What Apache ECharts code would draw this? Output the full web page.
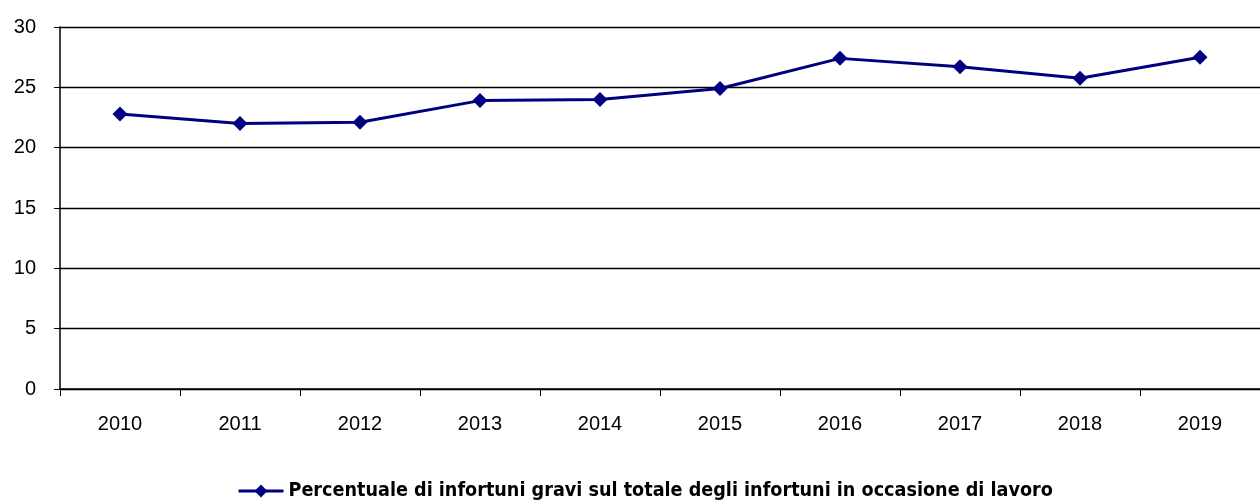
<!DOCTYPE html>
<html lang="it">
<head>
    <meta charset="UTF-8">
    <title>Infortuni gravi</title>
    <script src="https://cdn.jsdelivr.net/npm/echarts@6/dist/echarts.min.js"></script>
    <style>
        html, body { margin: 0; padding: 0; background: #fff; }
    </style>
</head>
<body>
<div id="main" style="width: 1260px; height: 500px;"></div>
<script>
    // dati
    var anni = ['2010', '2011', '2012', '2013', '2014', '2015', '2016', '2017', '2018', '2019'];
    var percentuale = [22.8, 22.0, 22.1, 23.9, 24.0, 24.9, 27.4, 26.7, 25.75, 27.5];
    var nomeSerie = 'Percentuale di infortuni gravi sul totale degli infortuni in occasione di lavoro';

    var mychart = echarts.init(document.getElementById('main'));
    mychart.setOption({
        animation: false,
        grid: { left: 60, top: 27, width: 1204, height: 362 },
        legend: {
            data: [nomeSerie],
            top: 476,
            left: 232,
            itemWidth: 45,
            itemHeight: 16,
            lineStyle: { width: 3 },
            textStyle: {
                fontFamily: 'DejaVu Sans Condensed, Liberation Sans Narrow, sans-serif',
                fontWeight: 'bold',
                fontSize: 19.6,
                color: '#000'
            }
        },
        xAxis: {
            type: 'category',
            data: anni,
            boundaryGap: true,
            axisLine: { lineStyle: { color: '#000', width: 1.5 } },
            axisTick: { show: true, length: 7, lineStyle: { color: '#000' } },
            axisLabel: {
                margin: 25,
                fontFamily: 'Liberation Sans, Arial, sans-serif',
                fontSize: 20,
                color: '#000'
            }
        },
        yAxis: {
            type: 'value',
            min: 0,
            max: 30,
            interval: 5,
            axisLine: { show: true, lineStyle: { color: '#000', width: 1.5 } },
            axisTick: { show: true, length: 6, lineStyle: { color: '#000' } },
            axisLabel: {
                margin: 24,
                fontFamily: 'Liberation Sans, Arial, sans-serif',
                fontSize: 20,
                color: '#000'
            },
            splitLine: { lineStyle: { color: '#000', width: 1.3 } }
        },
        series: [{
            name: nomeSerie,
            type: 'line',
            data: percentuale,
            symbol: 'diamond',
            symbolSize: 15,
            itemStyle: { color: '#000080' },
            lineStyle: { color: '#000080', width: 3 }
        }]
    });
</script>
</body>
</html>
